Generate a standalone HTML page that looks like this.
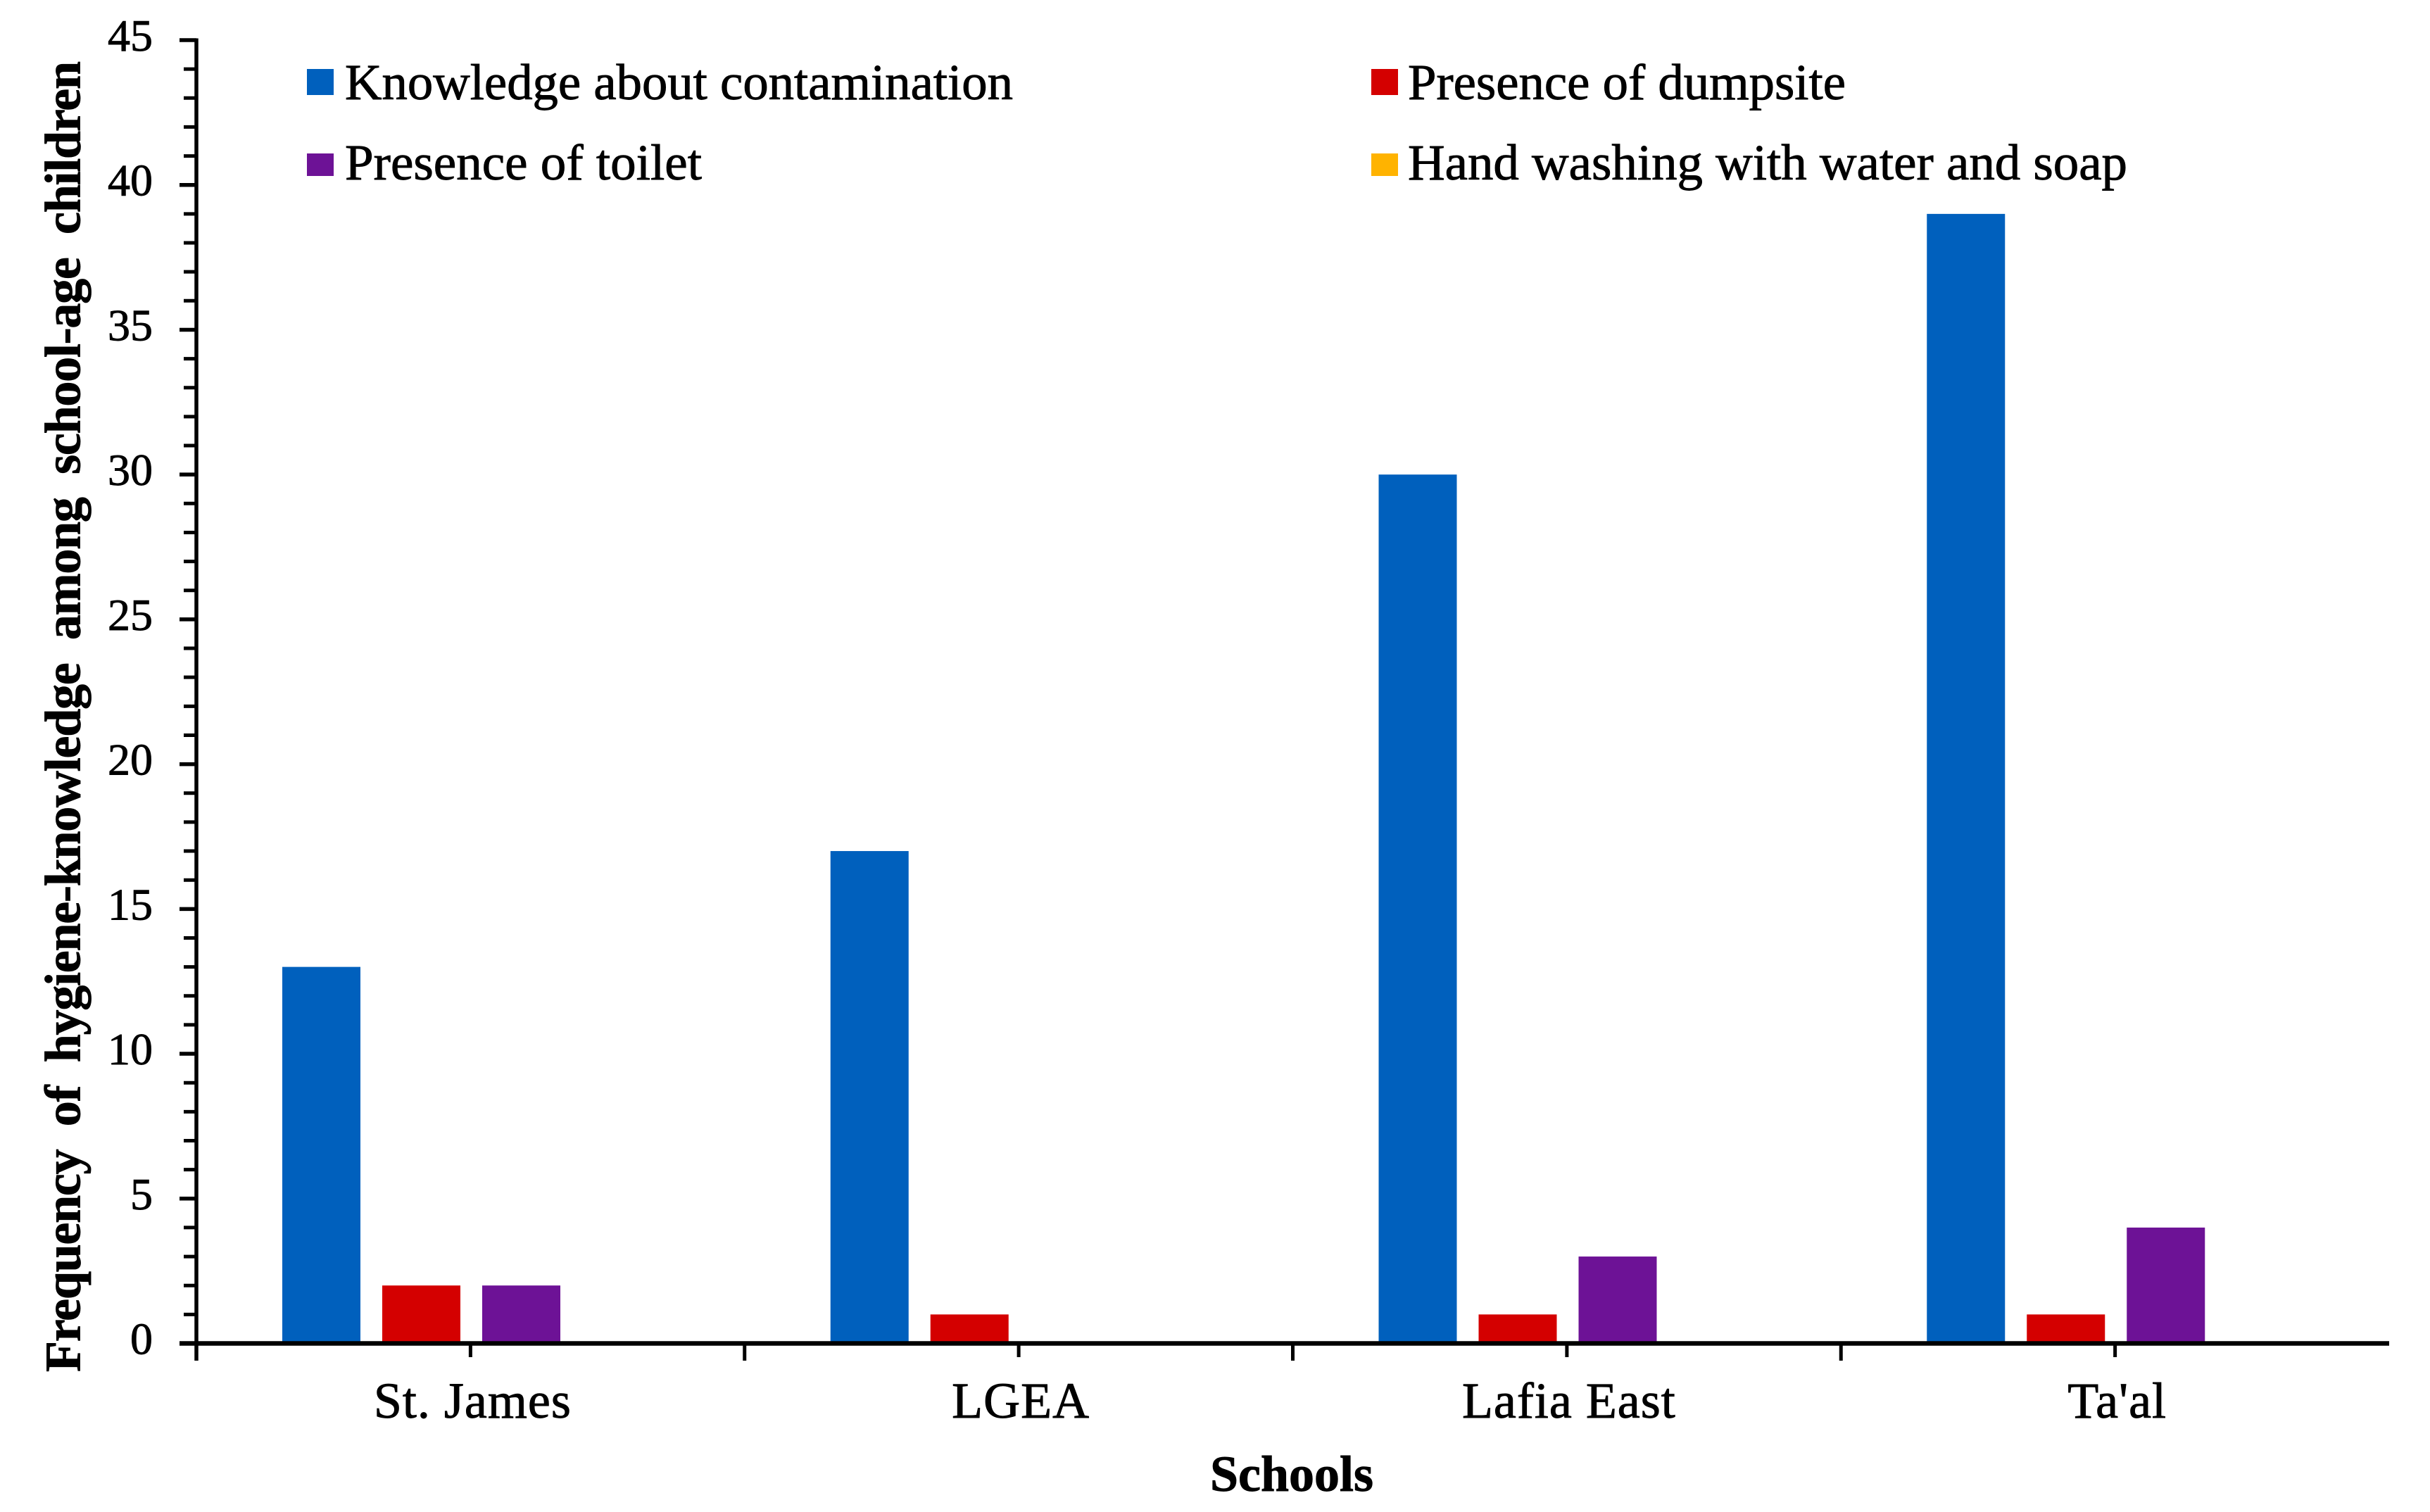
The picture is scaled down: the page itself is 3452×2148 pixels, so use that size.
<!DOCTYPE html>
<html>
<head>
<meta charset="utf-8">
<title>Frequency of hygiene-knowledge among school-age children</title>
<style>
  html, body { margin: 0; padding: 0; background: #fff; }
  svg { display: block; }
  text { font-family: "Liberation Serif", "Times New Roman", serif; fill: #000; stroke: #000; stroke-width: 0.9px; }
</style>
</head>
<body>
<svg id="chart" xmlns="http://www.w3.org/2000/svg" width="3452" height="2148" viewBox="0 0 3452 2148">
  <rect x="0" y="0" width="3452" height="2148" fill="#ffffff"/>
  <g id="bars"></g>
  <g id="axes"></g>

  <g font-size="72">
    <rect x="436" y="98" width="38" height="37" fill="#0060bd"/>
    <text x="490" y="141" textLength="949" lengthAdjust="spacingAndGlyphs">Knowledge about contamination</text>
    <rect x="1948" y="98" width="38" height="37" fill="#d40000"/>
    <text x="2000" y="141" textLength="622" lengthAdjust="spacingAndGlyphs">Presence of dumpsite</text>
    <rect x="436" y="218" width="38" height="32" fill="#6d1296"/>
    <text x="490" y="255" textLength="507" lengthAdjust="spacingAndGlyphs">Presence of toilet</text>
    <rect x="1948" y="218" width="38" height="32" fill="#ffb300"/>
    <text x="2000" y="255" textLength="1022" lengthAdjust="spacingAndGlyphs">Hand washing with water and soap</text>
  </g>

  <text x="1719" y="2118" font-size="72" font-weight="bold" textLength="232" lengthAdjust="spacingAndGlyphs">Schools</text>
  <text transform="translate(113.5,1949) rotate(-90)" x="0" y="0" font-size="72" font-weight="bold" textLength="1862" lengthAdjust="spacing" style="white-space:pre">Frequency  of  hygiene-knowledge  among  school-age  children</text>
</svg>

<script>
const categories = ["St. James", "LGEA", "Lafia East", "Ta'al"];
const knowledgeValues = [13, 17, 30, 39];
const dumpsiteValues = [2, 1, 1, 1];
const toiletValues = [2, 0, 3, 4];
const handWashingValues = [0, 0, 0, 0];
const yTickLabels = [0, 5, 10, 15, 20, 25, 30, 35, 40, 45];
const yMinorStep = 1;
const yMax = 45;

const SVG_NS = 'http://www.w3.org/2000/svg';
const plotLeft = 279;
const plotRight = 3394;
const plotBottom = 1908.5;
const plotTop = 57;
const barWidth = 111;
const barStride = 142;
const barOffset = 122;

function xBand(i) {
  return plotLeft + (plotRight - plotLeft) * i / categories.length;
}
function xCenter(i) {
  return xBand(i) + (plotRight - plotLeft) / categories.length / 2;
}
function yScale(v) {
  return plotBottom - (plotBottom - plotTop) * v / yMax;
}

const barsGroup = document.getElementById('bars');
const axesGroup = document.getElementById('axes');

function drawSeries(values, color, seriesName, seriesIndex) {
  values.forEach(function (v, i) {
    const el = document.createElementNS(SVG_NS, 'rect');
    el.setAttribute('x', xBand(i) + barOffset + seriesIndex * barStride);
    el.setAttribute('y', yScale(v));
    el.setAttribute('width', barWidth);
    el.setAttribute('height', plotBottom - yScale(v));
    el.setAttribute('fill', color);
    
    
    barsGroup.appendChild(el);
  });
}
drawSeries(knowledgeValues, '#0060bd', 'knowledge', 0);
drawSeries(dumpsiteValues, '#d40000', 'dumpsite', 1);
drawSeries(toiletValues, '#6d1296', 'toilet', 2);
drawSeries(handWashingValues, '#ffb300', 'handwashing', 3);

function drawLine(x1, y1, x2, y2, w) {
  const el = document.createElementNS(SVG_NS, 'line');
  el.setAttribute('x1', x1);
  el.setAttribute('y1', y1);
  el.setAttribute('x2', x2);
  el.setAttribute('y2', y2);
  el.setAttribute('stroke', '#000');
  el.setAttribute('stroke-width', w);
  axesGroup.appendChild(el);
  return el;
}

const yAxisLine = drawLine(plotLeft, plotTop - 2.5, plotLeft, 1933, 5.5);



const xAxisLine = drawLine(255, plotBottom, plotRight, plotBottom, 6.5);



for (let v = 0; v <= yMax; v += yMinorStep) {
  const isMajor = v % 5 === 0;
  const tick = drawLine(isMajor ? 255 : 261, yScale(v), plotLeft, yScale(v), isMajor ? 5.5 : 5);
  
  
}

yTickLabels.forEach(function (label) {
  const el = document.createElementNS(SVG_NS, 'text');
  el.setAttribute('x', 217);
  el.setAttribute('y', yScale(label) + 15);
  el.setAttribute('font-size', '64');
  el.setAttribute('text-anchor', 'end');
  
  
  el.textContent = label;
  axesGroup.appendChild(el);
});

for (let i = 1; i <= categories.length; i++) {
  if (i < categories.length) {
    const majorTick = drawLine(xBand(i), plotBottom, xBand(i), 1933, 5);
    
    
  }
}

categories.forEach(function (name, i) {
  const midTick = drawLine(xCenter(i), plotBottom, xCenter(i), 1928, 5);
  
  

  const el = document.createElementNS(SVG_NS, 'text');
  el.setAttribute('x', xCenter(i) + 3);
  el.setAttribute('y', 2014);
  el.setAttribute('font-size', '72');
  el.setAttribute('text-anchor', 'middle');
  el.setAttribute('letter-spacing', '1');
  
  
  el.textContent = name;
  axesGroup.appendChild(el);
});
</script>
</body>
</html>
